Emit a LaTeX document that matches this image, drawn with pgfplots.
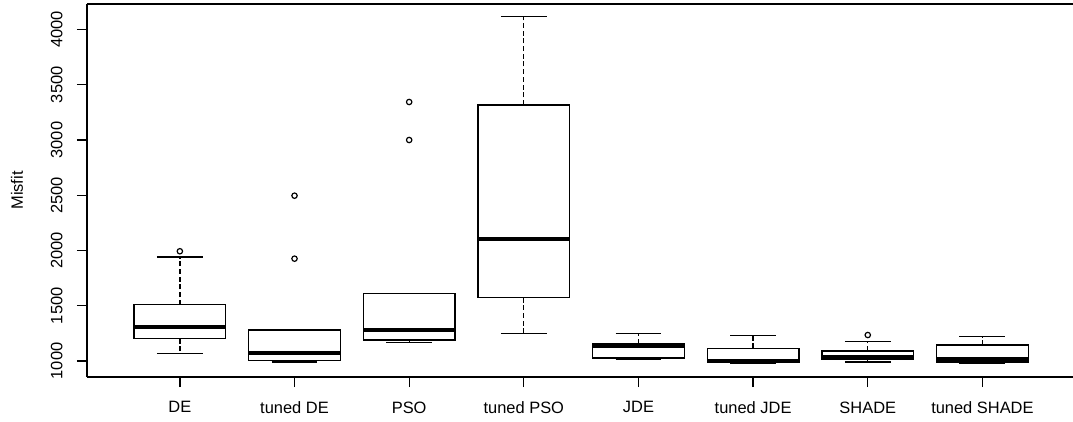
\documentclass[border=0pt]{standalone}
\usepackage{fontspec}
\setmainfont{Liberation Sans}
\usepackage{pgfplots}
\pgfplotsset{compat=1.18}

\begin{document}
\begin{tikzpicture}
\begin{axis}[
  scale only axis,
  width=986bp, height=373bp,
  xmin=0.19, xmax=8.79,
  ymin=855, ymax=4231,
  clip=false,
  unbounded coords=jump,
  axis lines*=left,
  axis line style={line width=1.3bp, -},
  tick style={line width=1.3bp, black},
  tick align=outside,
  major tick length=10bp,
  xtick={1,...,8},
  xticklabels={DE, tuned DE, PSO, tuned PSO, JDE, tuned JDE, SHADE, tuned SHADE},
  ytick={1000,1500,...,4000},
  scaled ticks=false,
  /pgf/number format/1000 sep={},
  /pgf/number format/assume math mode=true,
  tick label style={font=\fontsize{16.5}{19}\selectfont},
  yticklabel style={rotate=90, anchor=south},
  yticklabel shift=11bp,
  xticklabel shift=11bp,
  ylabel={Misfit},
  every axis y label/.style={at={(axis description cs:-0.071,0.5)}, rotate=90,
    anchor=center, font=\fontsize{16.5}{19}\selectfont},
]
% dashed whiskers: q3 -> upper whisker, q1 -> lower whisker
\addplot[black, line width=1.3bp, dash pattern=on 5bp off 2.7bp] coordinates {
  (1,1509) (1,1941) (1,nan) (1,1202) (1,1066) (1,nan)
  (2,1003) (2,992) (2,nan)
  (3,1190) (3,1169) (3,nan)
  (4,3317) (4,4116) (4,nan) (4,1573) (4,1247) (4,nan)
  (5,1157) (5,1247) (5,nan) (5,1027) (5,1015) (5,nan)
  (6,1115) (6,1232) (6,nan) (6,990) (6,980) (6,nan)
  (7,1090) (7,1178) (7,nan) (7,1015) (7,990) (7,nan)
  (8,1145) (8,1220) (8,nan) (8,990) (8,980)
};
% whisker caps
\addplot[black, line width=1.3bp] coordinates {
  (0.8,1941) (1.2,1941) (1,nan) (0.8,1066) (1.2,1066) (1,nan)
  (1.8,1281) (2.2,1281) (2,nan) (1.8,992) (2.2,992) (2,nan)
  (2.8,1609) (3.2,1609) (3,nan) (2.8,1169) (3.2,1169) (3,nan)
  (3.8,4116) (4.2,4116) (4,nan) (3.8,1247) (4.2,1247) (4,nan)
  (4.8,1247) (5.2,1247) (5,nan) (4.8,1015) (5.2,1015) (5,nan)
  (5.8,1232) (6.2,1232) (6,nan) (5.8,980) (6.2,980) (6,nan)
  (6.8,1178) (7.2,1178) (7,nan) (6.8,990) (7.2,990) (7,nan)
  (7.8,1220) (8.2,1220) (8,nan) (7.8,980) (8.2,980)
};
% boxes: lower quartile to upper quartile
\addplot[black, line width=1.3bp, line join=miter, line cap=rect] coordinates {
  (0.6,1202) (1.4,1202) (1.4,1509) (0.6,1509) (0.6,1202) (1,nan)
  (1.6,1003) (2.4,1003) (2.4,1281) (1.6,1281) (1.6,1003) (2,nan)
  (2.6,1190) (3.4,1190) (3.4,1609) (2.6,1609) (2.6,1190) (3,nan)
  (3.6,1573) (4.4,1573) (4.4,3317) (3.6,3317) (3.6,1573) (4,nan)
  (4.6,1027) (5.4,1027) (5.4,1157) (4.6,1157) (4.6,1027) (5,nan)
  (5.6,990) (6.4,990) (6.4,1115) (5.6,1115) (5.6,990) (6,nan)
  (6.6,1015) (7.4,1015) (7.4,1090) (6.6,1090) (6.6,1015) (7,nan)
  (7.6,990) (8.4,990) (8.4,1145) (7.6,1145) (7.6,990)
};
% medians
\addplot[black, line width=4bp] coordinates {
  (0.6,1308) (1.4,1308) (1,nan)
  (1.6,1070) (2.4,1070) (2,nan)
  (2.6,1281) (3.4,1281) (3,nan)
  (3.6,2101) (4.4,2101) (4,nan)
  (4.6,1135) (5.4,1135) (5,nan)
  (5.6,1003) (6.4,1003) (6,nan)
  (6.6,1033) (7.4,1033) (7,nan)
  (7.6,1015) (8.4,1015)
};
% outliers
\addplot[only marks, mark=o, mark size=2.7bp,
  mark options={black, line width=1.2bp}] coordinates {
  (1,1993) (2,1926) (2,2496) (3,3000) (3,3344) (7,1235)
};
% top of the frame (its right side is cut off in the reference)
\draw[line width=1.3bp] (rel axis cs:0,1) -- (rel axis cs:1,1);
\coordinate (sw) at (rel axis cs:0,0);
\end{axis}
\pgfresetboundingbox
\path[use as bounding box] (sw) ++(-87bp,-45bp) rectangle ++(1073bp,422bp);
\end{tikzpicture}
\end{document}
